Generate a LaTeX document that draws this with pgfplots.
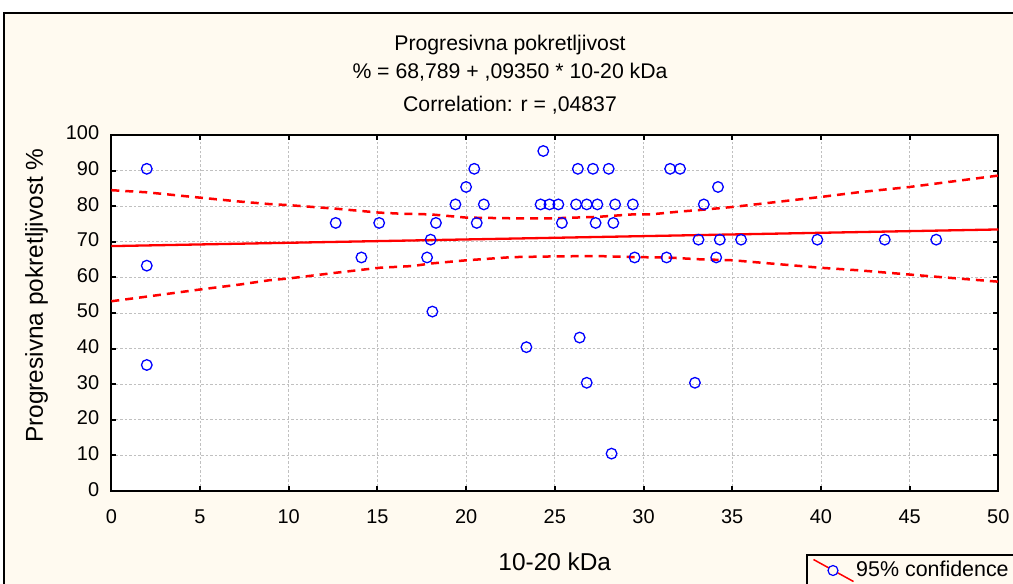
\documentclass[border=0pt]{standalone}
\usepackage{fontspec}
\setmainfont{Liberation Sans}
\usepackage{pgfplots}
\pgfplotsset{compat=1.18}
\definecolor{cream}{RGB}{255,250,240}
\definecolor{gridgray}{RGB}{192,192,192}
\begin{document}
\begin{tikzpicture}
% page background and outer frame
\fill[white] (0,0) rectangle (1013bp,584bp);
\fill[cream] (4bp,0) rectangle (1013bp,571bp);
\draw[black, line width=2bp] (4bp,0) -- (4bp,571bp) -- (1013bp,571bp);
% titles
\node[anchor=base, inner sep=0, font=\fontsize{21.3}{24}\selectfont] at (510bp,533bp) {Progresivna pokretljivost};
\node[anchor=base, inner sep=0, font=\fontsize{21.3}{24}\selectfont] at (510bp,505bp) {\% = 68,789 + ,09350 * 10-20 kDa};
\node[anchor=base, inner sep=0, font=\fontsize{21.3}{24}\selectfont] at (510bp,472bp) {Correlation: r = ,04837};
\begin{axis}[
  at={(111.3bp,93bp)}, anchor=south west,
  scale only axis, width=887bp, height=356bp,
  xmin=0, xmax=50, ymin=0, ymax=100,
  xtick={0,5,...,50}, ytick={0,10,...,100},
  axis background/.style={fill=white},
  axis line style={line width=2bp},
  tick align=inside, major tick length=5bp,
  every tick/.style={black, line width=2bp},
  grid=major,
  major grid style={gridgray, line width=0.8bp, dash pattern=on 2.5bp off 2bp},
  /pgf/number format/assume math mode=true,
  tick label style={font=\fontsize{20}{24}\selectfont},
  xticklabel style={anchor=base, inner sep=0, yshift=-32bp},
  yticklabel style={anchor=base east, inner sep=0, xshift=-12bp, yshift=-5bp},
  xlabel={10-20 kDa},
  ylabel={Progresivna pokretljivost \%},
  label style={font=\fontsize{24.5}{28}\selectfont},
  xlabel style={at={(axis description cs:0.5,0)}, anchor=base, inner sep=0, yshift=-79bp},
  ylabel style={at={(axis description cs:0,0.5)}, anchor=base, inner sep=0, xshift=17.5bp, yshift=68.3bp},
  legend style={at={(axis description cs:0.7832,-0.177)}, anchor=north west,
    draw=black, line width=1.5bp, fill=cream, font=\fontsize{21.5}{24}\selectfont,
    inner xsep=6bp, inner ysep=4bp},
  legend cell align=left,
  clip=false,
]
\addplot[only marks, mark=o, mark size=5.3bp, mark options={blue, line width=1.3bp}, forget plot] coordinates {
(2,90.5) (2,63.3) (2,35.4) (12.65,75.3) (15.1,75.3) (14.1,65.6)
(18.3,75.3) (18.0,70.6) (17.8,65.6) (18.1,50.4) (19.4,80.5) (20.0,85.4)
(20.46,90.5) (20.6,75.3) (21.0,80.5) (23.4,40.4) (24.2,80.5) (24.35,95.5)
(24.7,80.5) (25.2,80.5) (25.4,75.3) (26.2,80.5) (26.3,90.5) (26.4,43.1)
(26.8,80.5) (26.8,30.4) (27.15,90.5) (27.4,80.5) (27.3,75.3) (28.04,90.5)
(28.2,10.5) (28.4,80.5) (28.3,75.3) (29.4,80.5) (29.5,65.6) (31.3,65.6)
(31.5,90.5) (32.06,90.5) (32.9,30.4) (33.1,70.6) (33.4,80.5) (34.2,85.4)
(34.1,65.6) (34.3,70.6) (35.5,70.6) (39.8,70.6) (43.6,70.6) (46.5,70.6)
};
\addplot[red, line width=2.3bp, forget plot] coordinates {(0,68.789) (50,73.464)};
\addplot[red, line width=2.5bp, dash pattern=on 8bp off 6bp,
  legend image code/.code={
    \draw[red, solid, line width=1.5bp] (0bp,10bp) -- (40bp,-12bp);
    \draw[blue, solid, line width=1.2bp, fill=cream] (19.5bp,-1bp) circle (5bp);
  }] coordinates {
(0,84.5) (2,83.9) (5,82.4) (7.25,81.3) (8.9,80.6) (10,80.3) (12.65,79.3)
(15.1,78.2) (16.3,77.9) (18,77.7) (20,76.8) (22.6,76.6) (24.9,76.6)
(27.4,77) (29.4,77.7) (30.4,77.7) (32.06,78.5) (33.1,78.9) (35.06,79.8)
(40,82.6) (42.1,83.9) (45,85.4) (50,88.6)
};
\addlegendentry{95\% confidence}
\addplot[red, line width=2.5bp, dash pattern=on 8bp off 6bp, forget plot] coordinates {
(0,53.3) (2,54.6) (5,56.6) (7.25,58) (8.9,59.2) (10,59.7) (12.65,61.3)
(15.1,62.7) (17,63.2) (18,63.9) (20,64.8) (22.6,65.7) (25,65.9)
(27.4,66) (29.4,65.7) (31.3,65.6) (33.1,65.1) (35.06,64.8) (40,62.7)
(42.1,62) (45,60.8) (46.7,60.1) (50,58.8)
};
\end{axis}
\pgfresetboundingbox
\useasboundingbox (0,0) rectangle (1013bp,584bp);
\end{tikzpicture}
\end{document}
